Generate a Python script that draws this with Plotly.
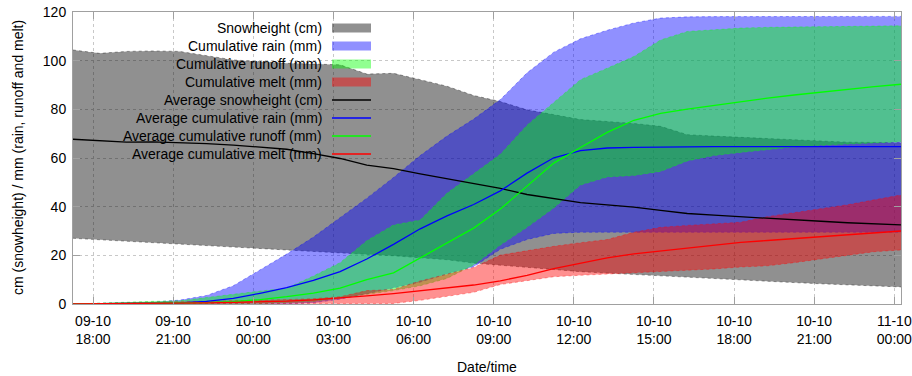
import pandas as pd
import plotly.graph_objects as go

# ---------------- data ----------------
times = pd.date_range("2010-10-09 17:15", periods=32, freq="h")

snow_avg = [67.7, 67.0, 66.5, 66.6, 66.3, 65.9, 65.3, 64.6, 63.6, 61.8, 59.8, 57.1,
            55.6, 53.5, 51.6, 49.5, 47.5, 45.0, 43.4, 41.7, 40.7, 39.8, 38.5, 37.2,
            36.5, 35.8, 35.2, 34.6, 34.0, 33.4, 32.9, 32.5]
snow_max = [104.4, 103.0, 103.8, 104.0, 103.8, 102.0, 100.3, 99.6, 98.9, 98.6, 98.3, 94.5,
            94.8, 92.2, 89.5, 85.7, 83.2, 79.8, 77.7, 75.8, 75.0, 74.2, 73.0, 69.6,
            69.0, 68.5, 67.9, 67.3, 66.7, 66.5, 66.4, 66.3]
snow_min = [27.0, 26.4, 25.8, 25.3, 24.8, 24.2, 23.6, 23.0, 22.5, 21.9, 21.3, 20.5,
            19.8, 19.0, 18.2, 16.8, 15.9, 15.0, 14.1, 13.3, 12.7, 12.1, 11.5, 10.9,
            10.3, 9.8, 9.3, 8.8, 8.3, 7.8, 7.4, 7.0]

rain_avg = [0.0, 0.05, 0.2, 0.3, 0.5, 1.1, 2.3, 4.4, 6.7, 9.7, 13.3, 18.5,
            24.5, 30.9, 36.2, 40.9, 46.5, 53.8, 60.1, 63.0, 64.1, 64.4, 64.6, 64.7,
            64.7, 64.7, 64.7, 64.7, 64.7, 64.7, 64.7, 64.7]
rain_max = [0.0, 0.2, 0.5, 0.8, 1.6, 3.5, 7.5, 14.0, 20.5, 27.5, 35.5, 43.5,
            52.0, 61.0, 69.0, 76.0, 84.0, 95.0, 103.5, 109.0, 112.5, 115.5, 117.5, 118.0,
            118.1, 118.1, 118.2, 118.2, 118.2, 118.2, 118.2, 118.2]
rain_min = [0.0, 0.0, 0.0, 0.0, 0.0, 0.0, 0.0, 0.0, 0.1, 0.5, 2.0, 4.2,
            6.5, 9.0, 12.3, 15.3, 22.5, 26.5, 29.0, 29.5, 29.5, 29.5, 29.5, 29.5,
            29.5, 29.5, 29.5, 29.5, 29.5, 29.5, 29.5, 29.5]

runoff_avg = [0.0, 0.1, 0.2, 0.3, 0.4, 0.6, 1.0, 1.8, 3.0, 4.5, 6.5, 10.0,
              12.8, 19.0, 25.3, 31.2, 39.0, 48.3, 57.9, 64.3, 70.5, 75.5, 78.3, 80.1,
              81.6, 83.4, 84.6, 85.9, 87.1, 88.2, 89.3, 90.3]
runoff_max = [0.0, 0.4, 0.9, 1.1, 1.3, 2.5, 4.0, 5.3, 6.5, 11.5, 17.0, 26.0,
              32.5, 34.5, 45.5, 53.5, 61.5, 73.5, 83.0, 92.2, 96.9, 101.7, 108.5, 112.0,
              112.7, 113.4, 113.7, 113.9, 114.0, 114.1, 114.2, 114.3]
runoff_min = [0.0, 0.0, 0.0, 0.0, 0.0, 0.0, 0.0, 0.2, 0.5, 1.0, 2.5, 4.0,
              5.5, 7.5, 10.5, 16.0, 24.2, 31.5, 39.5, 48.9, 52.2, 52.8, 54.5, 58.8,
              61.0, 62.3, 63.5, 64.5, 65.2, 65.8, 66.3, 66.7]

melt_avg = [0.0, 0.05, 0.1, 0.2, 0.3, 0.5, 0.7, 0.9, 1.2, 1.7, 2.4, 3.3,
            4.3, 5.4, 6.5, 7.8, 9.5, 11.8, 14.5, 16.9, 19.0, 20.6, 21.8, 23.0,
            24.2, 25.3, 26.1, 26.9, 27.7, 28.5, 29.3, 30.0]
melt_max = [0.0, 0.2, 0.5, 0.7, 0.9, 1.1, 1.3, 1.5, 1.8, 2.2, 3.0, 5.5,
            6.0, 9.5, 12.2, 15.0, 20.1, 22.0, 23.7, 25.2, 26.5, 29.5, 31.5, 32.3,
            32.8, 33.6, 35.9, 37.5, 39.0, 40.8, 42.8, 44.8]
melt_min = [0.0, 0.0, 0.0, 0.0, 0.0, 0.0, 0.0, 0.0, 0.0, 0.0, 0.0, 0.0,
            0.2, 1.5, 3.0, 4.8, 8.0, 9.5, 11.2, 11.8, 12.3, 12.8, 13.5, 14.0,
            14.4, 15.2, 15.7, 17.0, 18.5, 20.3, 21.5, 22.2]

tick_times = pd.date_range("2010-10-09 18:00", "2010-10-11 00:00", freq="3h")
tick_labels = ["09-10<br>18:00", "09-10<br>21:00", "10-10<br>00:00", "10-10<br>03:00",
               "10-10<br>06:00", "10-10<br>09:00", "10-10<br>12:00", "10-10<br>15:00",
               "10-10<br>18:00", "10-10<br>21:00", "11-10<br>00:00"]

band_names = ["Snowheight (cm)", "Cumulative rain (mm)", "Cumulative runoff (mm)", "Cumulative melt (mm)"]
line_names = ["Average snowheight (cm)", "Average cumulative rain (mm)",
              "Average cumulative runoff (mm)", "Average cumulative melt (mm)"]

# ---------------- style ----------------
A = 0.435
base = [(0, 0, 0), (0, 0, 255), (0, 255, 0), (255, 0, 0)]
fills = [f"rgba({r},{g},{b},{A})" for r, g, b in base]
edges = [f"rgba({r},{g},{b},0.45)" for r, g, b in base]
lines = ["#000000", "#0000ff", "#00ff00", "#ff0000"]
FONT = "Liberation Sans, Arial, sans-serif"

fig = go.Figure()
bands = [(snow_min, snow_max), (rain_min, rain_max), (runoff_min, runoff_max), (melt_min, melt_max)]
for (lo, hi), fc, ec, nm in zip(bands, fills, edges, band_names):
    fig.add_trace(go.Scatter(x=times, y=lo, mode="lines", showlegend=False, name=nm,
                             line=dict(color=ec, width=0.8, dash="dot")))
    fig.add_trace(go.Scatter(x=times, y=hi, mode="lines", fill="tonexty", fillcolor=fc,
                             showlegend=False, name=nm,
                             line=dict(color=ec, width=0.8, dash="dot")))
avgs = [snow_avg, rain_avg, runoff_avg, melt_avg]
for ys, lc, nm in zip(avgs, lines, line_names):
    fig.add_trace(go.Scatter(x=times, y=ys, mode="lines", showlegend=False, name=nm,
                             line=dict(color=lc, width=1.3)))

# ---------------- manual gnuplot-style legend ----------------
L, R, T, B = 73, 901, 12, 304
W, H = R - L, B - T
def px(x):
    return (x - L) / W
def py(y):
    return (B - y) / H

ann = []
shapes = []
row0, step = 28, 18.0
for k, nm in enumerate(band_names + line_names):
    yc = row0 + k * step
    ann.append(dict(x=px(324), y=py(yc), xref="paper", yref="paper", text=nm,
                    showarrow=False, xanchor="right", yanchor="middle",
                    font=dict(family=FONT, size=14, color="#000")))
    if k < 4:
        shapes.append(dict(type="rect", xref="paper", yref="paper",
                           x0=px(332), x1=px(371), y0=py(yc - 4.5), y1=py(yc + 4.5),
                           fillcolor=fills[k], line=dict(width=0), layer="above"))
    else:
        shapes.append(dict(type="line", xref="paper", yref="paper",
                           x0=px(332), x1=px(371), y0=py(yc), y1=py(yc),
                           line=dict(color=lines[k - 4], width=1.3), layer="above"))

ann.append(dict(x=px(18), y=0.5, xref="paper", yref="paper",
                text="cm (snowheight) / mm (rain, runoff and melt)", textangle=-90,
                showarrow=False, xanchor="center", yanchor="middle",
                font=dict(family=FONT, size=14, color="#000")))
ann.append(dict(x=0.5, y=py(367), xref="paper", yref="paper", text="Date/time",
                showarrow=False, xanchor="center", yanchor="middle",
                font=dict(family=FONT, size=14, color="#000")))

axis_common = dict(showline=True, linecolor="#a0a0a0", linewidth=1, mirror="allticks",
                   ticks="inside", ticklen=7, tickcolor="#a0a0a0", automargin=False,
                   ticklabeloverflow="allow",
                   showgrid=True, gridcolor="#c8c8c8", griddash="dot", gridwidth=1,
                   zeroline=False, tickfont=dict(family=FONT, size=14, color="#000"))

fig.update_layout(
    width=912, height=376,
    margin=dict(l=L, r=912 - R, t=T, b=376 - B),
    paper_bgcolor="white", plot_bgcolor="white",
    showlegend=False,
    annotations=ann, shapes=shapes,
    xaxis=dict(type="date", range=[times[0], times[-1]],
               tickvals=tick_times, ticktext=tick_labels, ticklabelstandoff=4, **axis_common),
    yaxis=dict(range=[0, 120], tickvals=[0, 20, 40, 60, 80, 100, 120],
               ticklabelstandoff=3, **axis_common),
)

fig.write_html("out.html")
